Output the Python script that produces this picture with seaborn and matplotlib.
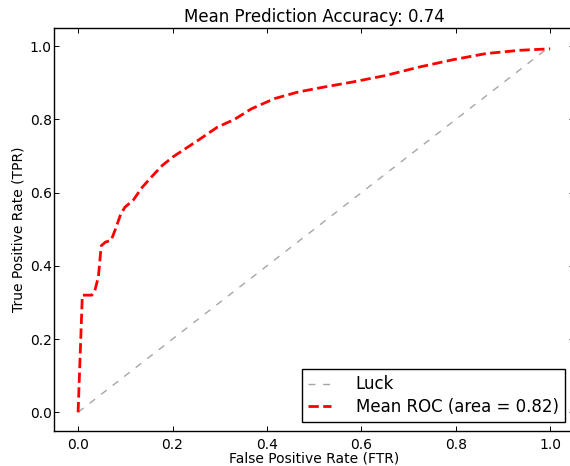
import matplotlib
matplotlib.use("Agg")
import matplotlib.pyplot as plt
import seaborn as sns
import pandas as pd

fpr = [0.0, 0.009, 0.029, 0.035, 0.043, 0.049, 0.058, 0.07, 0.079, 0.09, 0.099,
       0.117, 0.136, 0.157, 0.178, 0.2, 0.253, 0.295, 0.331, 0.367, 0.416, 0.466,
       0.523, 0.58, 0.651, 0.722, 0.793, 0.864, 0.935, 1.0]
tpr = [0.0, 0.32, 0.32, 0.33, 0.37, 0.455, 0.465, 0.47, 0.50, 0.54, 0.56,
       0.58, 0.615, 0.645, 0.674, 0.697, 0.742, 0.779, 0.80, 0.829, 0.857, 0.875,
       0.889, 0.902, 0.92, 0.943, 0.963, 0.98, 0.989, 0.993]
luck_x = [0.0, 1.0]
luck_y = [0.0, 1.0]
title = "Mean Prediction Accuracy: 0.74"
auc_label = "Mean ROC (area = 0.82)"

sns.set_style("ticks")
plt.rcParams.update({
    "font.family": ["DejaVu Sans"],
    "text.color": "black", "axes.labelcolor": "black",
    "xtick.color": "black", "ytick.color": "black",
    "xtick.labelcolor": "black", "ytick.labelcolor": "black",
    "xtick.direction": "in", "ytick.direction": "in",
    "xtick.top": True, "ytick.right": True,
    "xtick.major.size": 3.5, "ytick.major.size": 3.5,
    "xtick.major.width": 0.7, "ytick.major.width": 0.7,
    "xtick.major.pad": 5, "ytick.major.pad": 2,
    "axes.edgecolor": "black", "axes.linewidth": 1.0,
    "xtick.labelsize": 10, "ytick.labelsize": 10,
})

fig = plt.figure(figsize=(5.7, 4.66), dpi=100)
ax = fig.add_axes([0.0956, 0.076, 0.911, 0.864])

luck_df = pd.DataFrame({"x": luck_x, "y": luck_y})
roc_df = pd.DataFrame({"x": fpr, "y": tpr})

sns.lineplot(data=luck_df, x="x", y="y", ax=ax, color=(0.65, 0.65, 0.65), lw=1,
             label="Luck", sort=False, estimator=None)
ax.lines[-1].set_linestyle((0, (5, 5.5)))
sns.lineplot(data=roc_df, x="x", y="y", ax=ax, color="red", lw=2,
             label=auc_label, sort=False, estimator=None)
ax.lines[-1].set_linestyle("--")

ax.set_xlim(-0.05, 1.05)
ax.set_ylim(-0.05, 1.05)
ax.set_xticks([0.0, 0.2, 0.4, 0.6, 0.8, 1.0])
ax.set_yticks([0.0, 0.2, 0.4, 0.6, 0.8, 1.0])
for s in ax.spines.values():
    s.set_visible(True)
ax.set_xlabel("False Positive Rate (FTR)", fontsize=10, labelpad=0)
ax.set_ylabel("True Positive Rate (TPR)", fontsize=10, labelpad=3)
ax.set_title(title, fontsize=12, pad=4)
leg = ax.legend(loc="lower right", fontsize=12, fancybox=False, framealpha=1,
                edgecolor="black", borderaxespad=0.5, borderpad=0.4,
                handlelength=1.35, handletextpad=1.5, labelspacing=0.25)
leg.get_frame().set_linewidth(1.0)

fig.savefig("out.png", dpi=100)
